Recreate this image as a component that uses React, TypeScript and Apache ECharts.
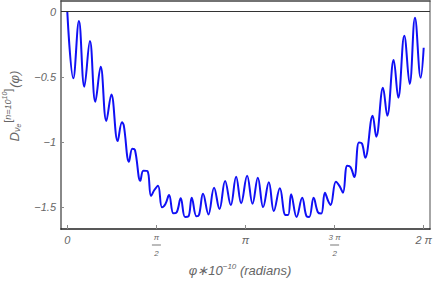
import React, { useEffect, useRef } from "react";
import * as echarts from "echarts";

const phiValues: number[] = [
  0.0, 0.106, 0.205, 0.3, 0.399, 0.494, 0.588, 0.688, 0.777, 0.888, 0.964, 0.995,
  1.088, 1.147, 1.193, 1.288, 1.341, 1.412, 1.476, 1.535, 1.599, 1.67, 1.73, 1.794,
  1.871, 1.929, 2.0, 2.076, 2.135, 2.194, 2.277, 2.323, 2.393, 2.488, 2.587, 2.683,
  2.782, 2.882, 2.976, 3.065, 3.17, 3.265, 3.359, 3.452, 3.553, 3.641, 3.747, 3.847,
  3.893, 3.946, 4.042, 4.141, 4.218, 4.265, 4.342, 4.418, 4.477, 4.541, 4.6, 4.642,
  4.735, 4.8, 4.859, 4.935, 4.995, 5.059, 5.141, 5.194, 5.253, 5.383, 5.447, 5.565,
  5.641, 5.753, 5.835, 5.941, 6.036, 6.129, 6.23, 6.283,
];
const dValues: number[] = [
  0.0, -0.511, -0.071, -0.575, -0.225, -0.69, -0.422, -0.838, -0.634, -0.992, -0.848, -0.87,
  -1.15, -1.05, -1.06, -1.296, -1.219, -1.222, -1.413, -1.367, -1.334, -1.5, -1.475, -1.406,
  -1.546, -1.538, -1.431, -1.574, -1.57, -1.426, -1.569, -1.557, -1.396, -1.554, -1.35, -1.513,
  -1.298, -1.482, -1.265, -1.468, -1.258, -1.472, -1.273, -1.498, -1.308, -1.528, -1.354, -1.559,
  -1.559, -1.4, -1.574, -1.426, -1.569, -1.574, -1.426, -1.538, -1.548, -1.388, -1.452, -1.482,
  -1.304, -1.337, -1.388, -1.181, -1.192, -1.268, -1.002, -1.01, -1.12, -0.797, -0.958, -0.583,
  -0.797, -0.37, -0.659, -0.184, -0.554, -0.046, -0.506, -0.276,
];

const xTickValues: number[] = [0, Math.PI / 2, Math.PI, (3 * Math.PI) / 2, 2 * Math.PI];
const xTickLabels: string[] = ["{m|0}", "{f|π}\n{bar| }\n{f|2}", "{m|π}", "{f|3 π}\n{bar| }\n{f|2}", "{m|2 π}"];
const yTickValues: number[] = [0, -0.5, -1, -1.5];
const yTickLabels: string[] = ["0", "−0.5", "−1", "−1.5"];

const FONT = "'Liberation Sans', Arial, sans-serif";
const TXT = "#666";

export default function App() {
  const ref = useRef<HTMLDivElement>(null);
  useEffect(() => {
    if (!ref.current) return;
    const chart = echarts.init(ref.current, null, { renderer: "svg" });
    const data = phiValues.map((x, i) => [x, dValues[i]]);
    const gray = "#888";
    const it = (fontSize: number, extra: any = {}) => ({
      fontSize,
      fontStyle: "italic",
      fontFamily: FONT,
      fill: TXT,
      ...extra,
    });
    chart.setOption({
      animation: false,
      grid: { left: 61, right: 6, top: 1, bottom: 52, containLabel: false },
      xAxis: [
        {
          type: "value",
          min: -0.111,
          max: 6.394,
          position: "bottom",
          axisLine: { show: true, onZero: false, lineStyle: { color: "#222", width: 1.5 } },
          axisTick: { show: true, inside: true, length: 4, customValues: xTickValues, lineStyle: { color: gray } },
          axisLabel: {
            customValues: xTickValues,
            margin: 4,
            verticalAlign: "top",
            formatter: (v: number) => {
              const i = xTickValues.findIndex((t) => Math.abs(t - v) < 1e-6);
              return i >= 0 ? xTickLabels[i] : "";
            },
            rich: {
              m: { fontSize: 11, fontStyle: "italic", color: TXT, fontFamily: FONT, lineHeight: 13 },
              f: { fontSize: 8, fontStyle: "italic", color: TXT, fontFamily: FONT, lineHeight: 8, align: "center" },
              bar: { fontSize: 1, lineHeight: 8, width: 9, height: 1, backgroundColor: "#777", align: "center" },
            },
          },
          splitLine: { show: false },
        },
        {
          type: "value",
          min: -0.111,
          max: 6.394,
          position: "top",
          axisLine: { show: true, onZero: false, lineStyle: { color: "#444", width: 1.5 } },
          axisTick: { show: false },
          axisLabel: { show: false },
          splitLine: { show: false },
        },
      ],
      yAxis: [
        {
          type: "value",
          min: -1.666,
          max: 0.082,
          position: "left",
          axisLine: { show: true, onZero: false, lineStyle: { color: gray, width: 2 } },
          axisTick: { show: true, inside: true, length: 3, customValues: yTickValues, lineStyle: { color: gray } },
          axisLabel: {
            customValues: yTickValues,
            margin: 5,
            color: TXT,
            fontSize: 11,
            fontStyle: "italic",
            fontFamily: FONT,
            formatter: (v: number) => {
              const i = yTickValues.findIndex((t) => Math.abs(t - v) < 1e-6);
              return i >= 0 ? yTickLabels[i] : "";
            },
          },
          splitLine: { show: false },
        },
        {
          type: "value",
          min: -1.666,
          max: 0.082,
          position: "right",
          axisLine: { show: true, onZero: false, lineStyle: { color: gray, width: 1.5 } },
          axisTick: { show: false },
          axisLabel: { show: false },
          splitLine: { show: false },
        },
      ],
      series: [
        {
          type: "line",
          data,
          xAxisIndex: 0,
          yAxisIndex: 0,
          smooth: 0.4,
          showSymbol: false,
          symbol: "none",
          lineStyle: { color: "#1010f5", width: 2 },
          markLine: {
            silent: true,
            symbol: "none",
            label: { show: false },
            lineStyle: { color: "#333", width: 1.2, type: "solid" },
            data: [{ yAxis: 0 }],
          },
        },
      ],
      graphic: [
        {
          type: "text",
          x: 14,
          y: 106,
          rotation: Math.PI / 2,
          style: {
            text: "{D|D}{s1|ν}{s2|e}{sp| }{b|[}{u|n=10}{u2|10}{b|]}{sp| }{p|(φ)}",
            align: "center",
            verticalAlign: "middle",
            fill: TXT,
            rich: {
              D: it(13, { lineHeight: 30, verticalAlign: "middle" }),
              s1: it(9, { lineHeight: 30, verticalAlign: "bottom", padding: [0, 0, 8, 0] }),
              s2: it(7, { lineHeight: 30, verticalAlign: "bottom", padding: [0, 0, 7, 0] }),
              sp: { fontSize: 3, lineHeight: 30 },
              b: { fontSize: 11, fontFamily: FONT, fill: TXT, lineHeight: 30, verticalAlign: "top", padding: [3, 0, 0, 0] },
              u: it(9, { lineHeight: 30, verticalAlign: "top", padding: [4, 0, 0, 0] }),
              u2: it(7, { lineHeight: 30, verticalAlign: "top", padding: [2, 0, 0, 0] }),
              p: it(13, { lineHeight: 30, verticalAlign: "middle" }),
            },
          },
        },
        {
          type: "text",
          x: 240,
          y: 270,
          style: {
            text: "{a|φ∗10}{s|−10}{b| (radians)}",
            align: "center",
            verticalAlign: "middle",
            rich: {
              a: it(13, { lineHeight: 18, verticalAlign: "middle" }),
              s: it(8, { lineHeight: 18, verticalAlign: "top", padding: [1, 0, 0, 0] }),
              b: it(13, { lineHeight: 18, verticalAlign: "middle" }),
            },
          },
        },
      ],
    });
    return () => chart.dispose();
  }, []);
  return <div ref={ref} style={{ position: "absolute", left: 0, top: 0, width: 436, height: 281 }} />;
}
